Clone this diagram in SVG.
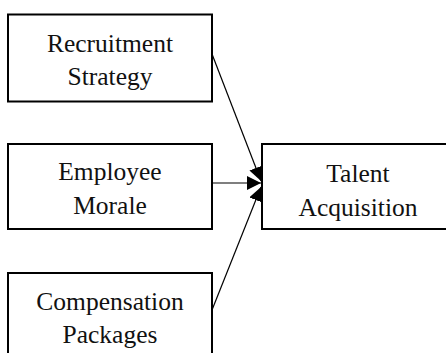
<svg xmlns="http://www.w3.org/2000/svg" width="446" height="353" viewBox="0 0 446 353">
  <style>
    .box { fill: #ffffff; stroke: #000000; stroke-width: 2; }
    .lbl { font-family: "Liberation Serif", "DejaVu Serif", serif; font-size: 25.5px; fill: #111111; text-anchor: middle; }
    .edge { stroke: #000000; stroke-width: 1.2; fill: none; marker-end: url(#arrow); }
  </style>
  <defs>
    <marker id="arrow" markerUnits="userSpaceOnUse" markerWidth="15" markerHeight="14" refX="14" refY="7" orient="auto">
      <path d="M0,0 L14,7 L0,14 z" fill="#000000"/>
    </marker>
  </defs>
  <rect width="446" height="353" fill="#ffffff"/>
  <g id="connectors">
    <line class="edge" x1="212" y1="54" x2="261" y2="181"/>
    <line class="edge" x1="212" y1="183" x2="261" y2="183"/>
    <line class="edge" x1="212" y1="310" x2="261" y2="187"/>
  </g>
  <g id="recruitment-strategy">
    <rect class="box" x="8" y="14.5" width="204" height="87"/>
    <text class="lbl" x="110" y="52">Recruitment</text>
    <text class="lbl" x="110" y="85">Strategy</text>
  </g>
  <g id="employee-morale">
    <rect class="box" x="8" y="144" width="204" height="85"/>
    <text class="lbl" x="110" y="180">Employee</text>
    <text class="lbl" x="110" y="214">Morale</text>
  </g>
  <g id="compensation-packages">
    <rect class="box" x="8" y="273" width="204" height="88"/>
    <text class="lbl" x="110" y="310">Compensation</text>
    <text class="lbl" x="110" y="343">Packages</text>
  </g>
  <g id="talent-acquisition">
    <rect class="box" x="262" y="144" width="210" height="85"/>
    <text class="lbl" x="358" y="182">Talent</text>
    <text class="lbl" x="358" y="216">Acquisition</text>
  </g>
</svg>
